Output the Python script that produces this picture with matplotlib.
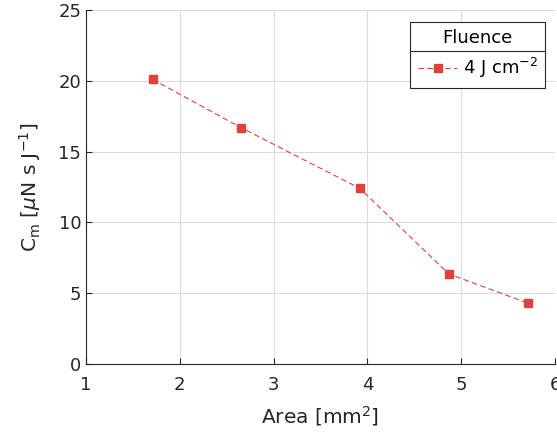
import numpy as np
import matplotlib
matplotlib.use("Agg")
import matplotlib.pyplot as plt
from matplotlib.lines import Line2D

# values
area = [1.71, 2.65, 3.92, 4.87, 5.71]
cm = [20.1, 16.7, 12.4, 6.35, 4.3]
series_label = "4 J cm$^{-2}$"
legend_title = "Fluence"
xticks = [1, 2, 3, 4, 5, 6]
yticks = [0, 5, 10, 15, 20, 25]

red = "#e23f3f"
dark = "#262626"

fig = plt.figure(figsize=(5.57, 4.33), dpi=100)
ax = fig.add_axes([0.1544, 0.1594, 0.842, 0.8175])

ax.plot(area, cm, color=red, lw=0.8, dashes=(5, 3), marker="s", ms=5.5,
        mfc=red, mec=red, label=series_label)

ax.set_xlim(1, 6)
ax.set_ylim(0, 25)
ax.set_xticks(xticks)
ax.set_yticks(yticks)
ax.grid(True, color="#dcdcdc", lw=0.8)
ax.set_axisbelow(True)
for s in ["top", "right"]:
    ax.spines[s].set_visible(False)
for s in ["left", "bottom"]:
    ax.spines[s].set_color(dark)
    ax.spines[s].set_linewidth(0.8)
ax.tick_params(direction="in", length=4, width=0.8, colors=dark, labelsize=13)
ax.tick_params(axis="x", pad=9)

ax.set_xlabel("Area [mm$^2$]", fontsize=14.5, color=dark, labelpad=7)
ax.set_ylabel("C$_\\mathrm{m}$ [$\\mu$N s J$^{-1}$]", fontsize=14.5, color=dark, labelpad=11)

leg = ax.legend(title=legend_title, loc="upper right", bbox_to_anchor=(0.979, 0.966),
                fontsize=13, title_fontsize=13, fancybox=False, framealpha=1,
                edgecolor=dark, handlelength=2.2, borderaxespad=0,
                borderpad=0.4, handletextpad=0.3)
leg.get_frame().set_linewidth(0.8)

# separator between title and entry, as in the reference
fig.canvas.draw()
fb = leg.get_frame().get_window_extent()
tb = leg.get_title().get_window_extent()
ysep = tb.y0 - 4
inv = fig.transFigure.inverted()
(x0, y0) = inv.transform((fb.x0, ysep))
(x1, _) = inv.transform((fb.x1, ysep))
fig.add_artist(Line2D([x0, x1], [y0, y0], transform=fig.transFigure,
                      color=dark, lw=0.8))

fig.savefig("out.png", dpi=100)
